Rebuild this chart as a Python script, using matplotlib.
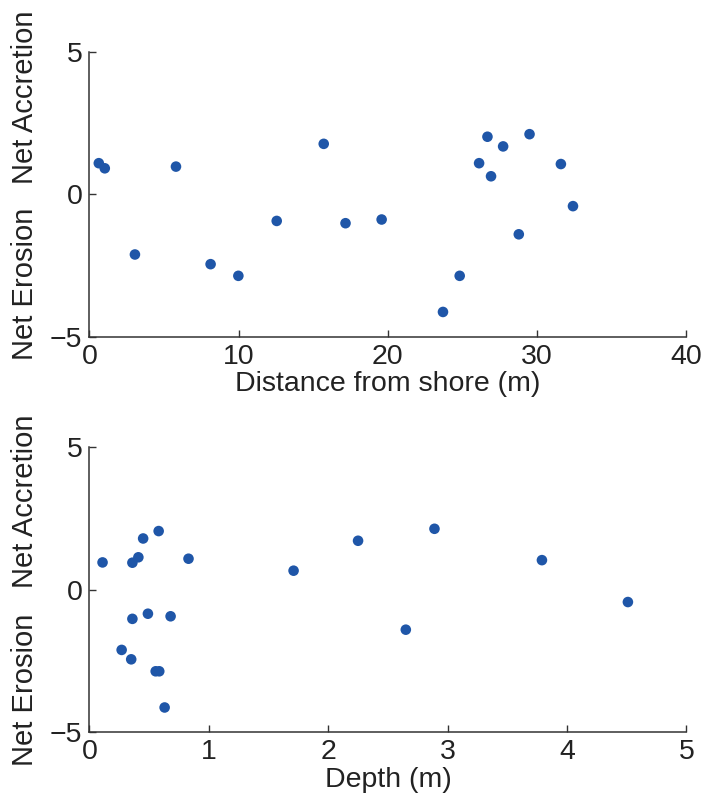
import matplotlib
matplotlib.use("Agg")
import matplotlib.pyplot as plt

plt.rcParams['font.family'] = ['Liberation Sans', 'DejaVu Sans']

# Top panel: distance from shore (m) vs net change
dist_x = [0.63, 1.03, 5.80, 3.05, 8.12, 9.98, 12.55, 15.70, 17.16, 19.58,
          23.69, 24.81, 26.11, 26.67, 26.91, 27.72, 28.77, 29.49, 31.59, 32.40]
dist_y = [1.10, 0.92, 0.98, -2.11, -2.45, -2.86, -0.93, 1.78, -1.01, -0.88,
          -4.13, -2.86, 1.10, 2.03, 0.64, 1.69, -1.40, 2.12, 1.07, -0.41]

# Bottom panel: depth (m) vs net change
depth_x = [0.11, 0.36, 0.41, 0.45, 0.58, 0.83, 1.71, 2.25, 0.36, 0.49,
           0.68, 0.27, 0.35, 0.555, 0.585, 0.63, 2.89, 3.79, 4.51, 2.65]
depth_y = [0.96, 0.95, 1.14, 1.80, 2.06, 1.09, 0.67, 1.72, -1.02, -0.84,
           -0.93, -2.11, -2.44, -2.86, -2.86, -4.13, 2.14, 1.04, -0.43, -1.40]

top_xticks = [0, 10, 20, 30, 40]
bot_xticks = [0, 1, 2, 3, 4, 5]
yticks = [-5, 0, 5]

marker_color = '#1f56a8'
axis_color = '#333333'
text_color = '#222222'
fs = 20.5
fs_y = 21

fig = plt.figure(figsize=(7.04, 7.99), dpi=100)
ax1 = fig.add_axes([0.127, 0.5786, 0.848, 0.356])
ax2 = fig.add_axes([0.127, 0.0835, 0.848, 0.3567])

panels = [
    (ax1, dist_x, dist_y, top_xticks, (0, 40), 'Distance from shore (m)', 0.843, 0.187),
    (ax2, depth_x, depth_y, bot_xticks, (0, 5), 'Depth (m)', 0.809, 0.148),
]

for ax, xs, ys, xt, xlim, xlabel, acc_y, ero_y in panels:
    ax.scatter(xs, ys, s=58, color=marker_color, edgecolors='none', zorder=3, clip_on=False)
    ax.set_xlim(*xlim)
    ax.set_ylim(-5, 5)
    ax.set_xticks(xt)
    ax.set_yticks(yticks)
    ax.set_yticklabels(['\u22125', '0', '5'])
    for s in ['top', 'right']:
        ax.spines[s].set_visible(False)
    for s in ['left', 'bottom']:
        ax.spines[s].set_color(axis_color)
        ax.spines[s].set_linewidth(1.1)
    ax.tick_params(direction='in', length=5, width=1, colors=axis_color,
                   labelsize=fs, labelcolor=text_color, pad=5)
    ax.set_xlabel(xlabel, fontsize=fs, color=text_color, labelpad=1)
    ax.text(-0.108, acc_y, 'Net Accretion', rotation=90, transform=ax.transAxes,
            ha='center', va='center', fontsize=fs_y, color=text_color)
    ax.text(-0.108, ero_y, 'Net Erosion', rotation=90, transform=ax.transAxes,
            ha='center', va='center', fontsize=fs_y, color=text_color)

fig.savefig('out.png', dpi=100, facecolor='white')
